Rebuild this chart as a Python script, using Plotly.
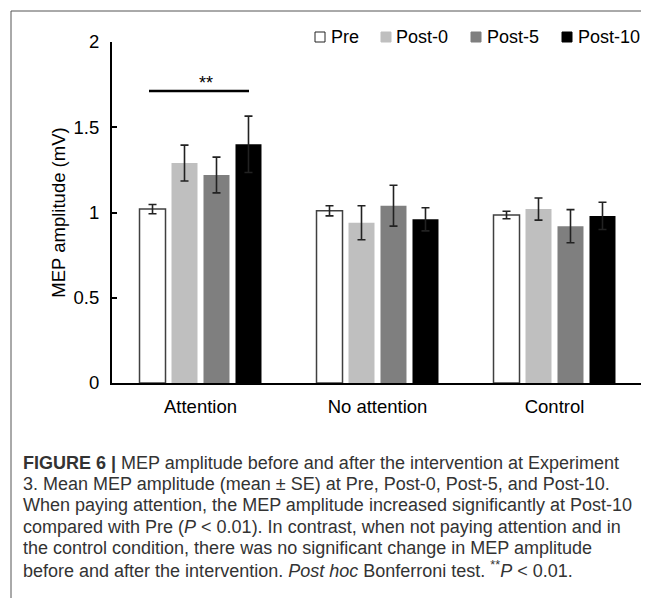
import plotly.graph_objects as go

categories = ["Attention", "No attention", "Control"]
series_names = ["Pre", "Post-0", "Post-5", "Post-10"]
pre_vals = [1.02, 1.01, 0.985]
pre_se = [0.027, 0.03, 0.022]
post0_vals = [1.29, 0.94, 1.02]
post0_se = [0.105, 0.10, 0.065]
post5_vals = [1.22, 1.04, 0.92]
post5_se = [0.105, 0.12, 0.097]
post10_vals = [1.40, 0.96, 0.98]
post10_se = [0.165, 0.068, 0.08]
y_ticks = [0, 0.5, 1, 1.5, 2]
y_ticklabels = ["0", "0.5", "1", "1.5", "2"]
sig_level = 1.713
sig_label = "**"

fills = ["#ffffff", "#bfbfbf", "#7f7f7f", "#000000"]
lines = ["#404040", "#bfbfbf", "#7f7f7f", "#000000"]
vals = [pre_vals, post0_vals, post5_vals, post10_vals]
ses = [pre_se, post0_se, post5_se, post10_se]

OFF = 8  # page body margin
W, H = 641, 590
L, R, T, B = 104, 6, 34, 215
pw, ph = W - L - R, H - T - B

def px(x):  # page x -> paper
    return (x - OFF - L) / pw

def py(y):  # page y -> paper
    return (H - B - (y - OFF)) / ph

FONT = "Liberation Sans, Arial, sans-serif"

fig = go.Figure()
for name, v, e, fc, lc in zip(series_names, vals, ses, fills, lines):
    fig.add_trace(go.Bar(
        x=categories, y=v, name=name, showlegend=False,
        marker=dict(color=fc, line=dict(color=lc, width=1.5 if name == "Pre" else 0)),
        error_y=dict(type="data", array=e, visible=True, color="#222222", thickness=1.6, width=4),
    ))

fig.update_layout(
    width=W, height=H,
    margin=dict(l=L, r=R, t=T, b=B, autoexpand=False),
    paper_bgcolor="white", plot_bgcolor="white",
    barmode="group", bargap=0.277, bargroupgap=0.1875,
    font=dict(family=FONT, size=18.5, color="#000000"),
    showlegend=False,
    xaxis=dict(showline=True, linecolor="#000000", linewidth=2, ticks="",
               tickfont=dict(size=18.5), showgrid=False, zeroline=False,
               ticklabelstandoff=6),
    yaxis=dict(range=[0, 2], tickvals=y_ticks, ticktext=y_ticklabels,
               showline=True, linecolor="#000000", linewidth=2, ticks="inside",
               ticklen=5, tickwidth=2, tickcolor="#000000", showgrid=False, zeroline=False,
               tickfont=dict(size=18.5), ticklabelstandoff=7,
               title=dict(text="MEP amplitude (mV)", font=dict(size=18.5), standoff=3)),
)

# custom legend (boxes + names)
leg_box_x = [315, 381, 471, 562]
leg_text_x = [329, 394, 485, 576]
leg_y = 37
for name, bx, tx, fc, lc in zip(series_names, leg_box_x, leg_text_x, fills, lines):
    fig.add_shape(type="rect", xref="paper", yref="paper",
                  x0=px(bx), x1=px(bx + 10), y0=py(leg_y + 5), y1=py(leg_y - 5),
                  fillcolor=fc, line=dict(color="#222222" if name == "Pre" else fc, width=1))
    fig.add_annotation(xref="paper", yref="paper", x=px(tx), y=py(leg_y), xanchor="left",
                       yanchor="middle", text=name, showarrow=False,
                       font=dict(size=18, color="#000000"))

# significance bar
fig.add_shape(type="line", xref="paper", yref="y", x0=px(149), x1=px(249),
              y0=sig_level, y1=sig_level, line=dict(color="#000000", width=2.5))
fig.add_annotation(xref="paper", yref="y", x=px(197), y=sig_level, yshift=8,
                   text=sig_label, showarrow=False, font=dict(size=18))

# frame lines
fig.add_shape(type="line", xref="paper", yref="paper", x0=px(11), x1=px(11),
              y0=py(11), y1=py(605), line=dict(color="#555555", width=1))
fig.add_shape(type="line", xref="paper", yref="paper", x0=px(11), x1=px(660),
              y0=py(11), y1=py(11), line=dict(color="#555555", width=1))

caption = [
    "<b>FIGURE 6 |</b> MEP amplitude before and after the intervention at Experiment",
    "3. Mean MEP amplitude (mean ± SE) at Pre, Post-0, Post-5, and Post-10.",
    "When paying attention, the MEP amplitude increased significantly at Post-10",
    "compared with Pre (<i>P</i> < 0.01). In contrast, when not paying attention and in",
    "the control condition, there was no significant change in MEP amplitude",
    "before and after the intervention. <i>Post hoc</i> Bonferroni test. <sup>**</sup><i>P</i> < 0.01.",
]
cap_y = [462.7, 484, 505.3, 526.6, 548, 569.3]
for t, yy in zip(caption, cap_y):
    fig.add_annotation(xref="paper", yref="paper", x=px(21), y=py(yy), xanchor="left",
                       yanchor="middle", text=t, showarrow=False, align="left",
                       font=dict(size=18, color="#333333"))

fig.write_html("out.html")
